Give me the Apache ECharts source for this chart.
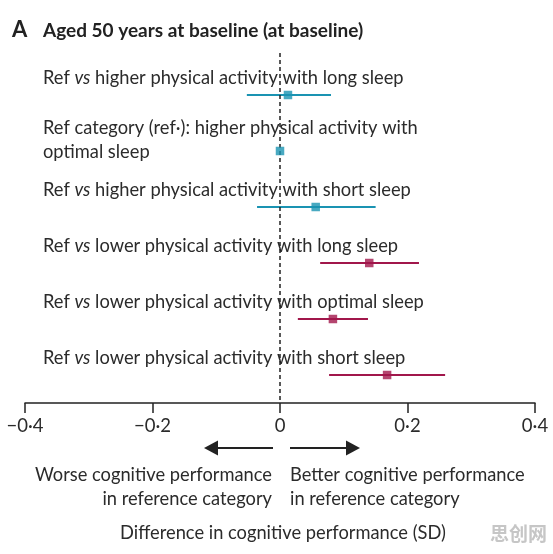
<!DOCTYPE html>
<html><head><meta charset="utf-8">
<script src="https://cdn.jsdelivr.net/npm/echarts@6/dist/echarts.min.js"></script>
<style>html,body{margin:0;background:#fff}#c{width:553px;height:554px}</style></head>
<body><div id="c"></div>
<script>
const rowLabels = [
  'Ref {i|vs} higher physical activity with long sleep',
  'Ref category (ref·): higher physical activity with\noptimal sleep',
  'Ref {i|vs} higher physical activity with short sleep',
  'Ref {i|vs} lower physical activity with long sleep',
  'Ref {i|vs} lower physical activity with optimal sleep',
  'Ref {i|vs} lower physical activity with short sleep'
];
const estimates = [0.0125, 0, 0.056, 0.14, 0.083, 0.168];
const lowerCI = [-0.052, null, -0.036, 0.063, 0.028, 0.077];
const upperCI = [0.08, null, 0.15, 0.218, 0.138, 0.259];
const groups = ['higher', 'higher', 'higher', 'lower', 'lower', 'lower'];
const tickValues = [-0.4, -0.2, 0, 0.2, 0.4];
const tickLabels = ['\u22120\u00b74', '\u22120\u00b72', '0', '0\u00b72', '0\u00b74'];

const colors = { higher: '#1a93b2', lower: '#a1174b' };
const FONT = 'Lato, "Open Sans", sans-serif';
const FS = 18.3;
const TXT = '#2b2b2b';

const chart = echarts.init(document.getElementById('c'));
const rows = rowLabels.map((_, i) => i);

chart.setOption({
  animation: false,
  backgroundColor: '#fff',
  grid: { left: 25, right: 18, top: 53, bottom: 151 },
  xAxis: {
    type: 'value', min: -0.4, max: 0.4, interval: 0.2,
    axisLine: { show: true, onZero: false, lineStyle: { color: '#222', width: 1.5 } },
    axisTick: { show: true, inside: false, length: 10, lineStyle: { color: '#222', width: 1.5 } },
    splitLine: { show: false },
    axisLabel: {
      margin: 14, fontSize: 18.5, fontFamily: FONT, color: TXT,
      formatter: v => { const k = tickValues.findIndex(t => Math.abs(t - v) < 1e-9); return k >= 0 ? tickLabels[k] : ''; }
    }
  },
  yAxis: { type: 'value', inverse: true, min: -0.75, max: 5.5, show: false },
  series: [
    {
      type: 'custom', name: 'labels', silent: true,
      data: rows.map(i => [0, i]),
      renderItem: (params, api) => {
        const i = params.dataIndex;
        const y = api.coord([0, api.value(1)])[1];
        const multi = rowLabels[i].indexOf('\n') >= 0;
        return {
          type: 'text',
          style: {
            x: 43, y: multi ? y - 11 : y - 17,
            text: rowLabels[i],
            fill: TXT, fontSize: FS, fontFamily: FONT,
            lineHeight: 24, verticalAlign: 'middle', align: 'left',
            rich: { i: { fontStyle: 'italic', fontSize: FS, fontFamily: FONT, fill: TXT } }
          }
        };
      }
    },
    {
      type: 'custom', name: 'ci', silent: true,
      data: rows.filter(i => lowerCI[i] !== null).map(i => [lowerCI[i], upperCI[i], i]),
      renderItem: (params, api) => {
        const r = api.value(2);
        const a = api.coord([api.value(0), r]);
        const b = api.coord([api.value(1), r]);
        return {
          type: 'line',
          shape: { x1: a[0], y1: a[1], x2: b[0], y2: b[1] },
          style: { stroke: colors[groups[r]], lineWidth: 2 }
        };
      }
    },
    {
      type: 'scatter', name: 'est', silent: true, symbol: 'rect', symbolSize: 8.5,
      data: rows.map(i => ({ value: [estimates[i], i], itemStyle: { color: colors[groups[i]] } })),
      markLine: {
        silent: true, symbol: 'none', label: { show: false },
        lineStyle: { color: '#222', type: [4, 3], width: 1.5 },
        data: [{ xAxis: 0 }]
      },
      z: 5
    }
  ],
  graphic: [
    { type: 'text', x: 12, y: 30, style: { text: 'A', font: 'bold 22px ' + FONT, fill: '#222', verticalAlign: 'middle' } },
    { type: 'text', x: 43, y: 31, style: { text: 'Aged 50 years at baseline (at baseline)', font: 'bold 19px ' + FONT, fill: '#222', verticalAlign: 'middle' } },
    { type: 'line', shape: { x1: 273, y1: 448, x2: 214, y2: 448 }, style: { stroke: '#222', lineWidth: 2 } },
    { type: 'polygon', shape: { points: [[204, 448], [218, 440.5], [218, 455.5]] }, style: { fill: '#222' } },
    { type: 'line', shape: { x1: 290, y1: 448, x2: 350, y2: 448 }, style: { stroke: '#222', lineWidth: 2 } },
    { type: 'polygon', shape: { points: [[360, 448], [346, 440.5], [346, 455.5]] }, style: { fill: '#222' } },
    { type: 'text', x: 272, y: 487, style: { text: 'Worse cognitive performance\nin reference category', font: FS + 'px ' + FONT, fill: TXT, align: 'right', verticalAlign: 'middle', lineHeight: 24 } },
    { type: 'text', x: 290, y: 487, style: { text: 'Better cognitive performance\nin reference category', font: FS + 'px ' + FONT, fill: TXT, align: 'left', verticalAlign: 'middle', lineHeight: 24 } },
    { type: 'text', x: 283, y: 533, style: { text: 'Difference in cognitive performance (SD)', font: FS + 'px ' + FONT, fill: TXT, align: 'center', verticalAlign: 'middle' } },
    { type: 'text', x: 547, y: 534, style: { text: '思创网', font: 'bold 19px "Noto Sans CJK SC", sans-serif', fill: '#c6c6c6', align: 'right', verticalAlign: 'middle' } }
  ]
});
</script></body></html>
